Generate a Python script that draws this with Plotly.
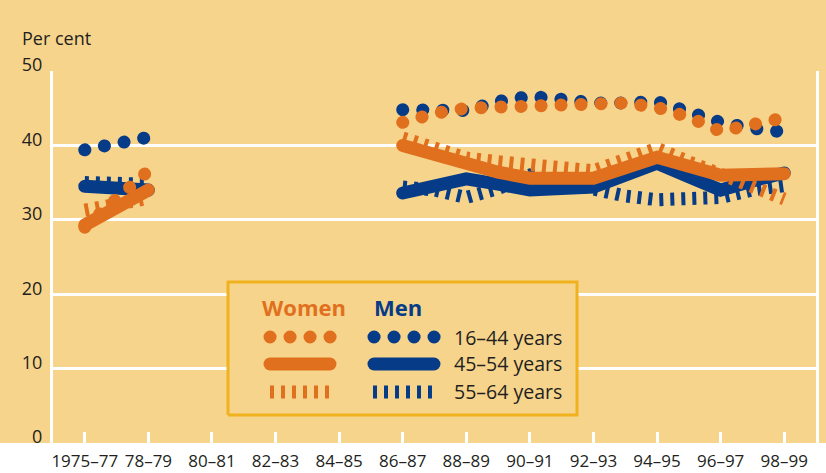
import plotly.graph_objects as go

# ---------------- data ----------------
YEARS = [1977, 1978, 1979, None, 1987, 1988, 1989, 1990, 1991, 1992, 1993,
         1994, 1995, 1996, 1997, 1998, 1999]
TICK_VALS = [1977, 1979, 1981, 1983, 1985, 1987, 1989, 1991, 1993, 1995, 1997, 1999]
TICK_TEXT = ["1975–77", "78–79", "80–81", "82–83", "84–85", "86–87", "88–89",
             "90–91", "92–93", "94–95", "96–97", "98–99"]

MEN_16_44 = [39.4, 40.3, 41.1, None, 44.8, 44.6, 44.7, 45.9, 46.6, 46.2, 45.7,
             45.7, 45.9, 44.5, 43.1, 42.3, 41.8]
MEN_45_54 = [34.5, 34.2, 34.0, None, 33.6, 34.6, 35.5, 34.8, 34.0, 34.2, 34.4,
             36.0, 37.6, 35.8, 34.0, 35.2, 36.3]
MEN_55_64 = [35.0, 35.0, 34.8, None, 34.4, 34.0, 33.0, 34.2, 36.0, 35.0, 34.4,
             33.2, 32.7, 32.7, 33.0, 34.0, 34.6]
WOMEN_16_44 = [29.0, 32.8, 36.6, None, 43.1, 44.3, 45.0, 45.2, 45.2, 45.3, 45.6,
               45.7, 45.1, 43.8, 41.9, 42.6, 43.7]
WOMEN_45_54 = [29.3, 31.6, 34.0, None, 40.0, 38.7, 37.4, 36.4, 35.6, 35.5, 35.6,
               37.0, 38.4, 37.2, 36.0, 36.1, 36.2]
WOMEN_55_64 = [31.3, 32.2, 32.9, None, 41.0, 39.5, 38.3, 37.8, 37.6, 37.0, 36.6,
               38.2, 39.6, 37.8, 36.0, 34.5, 32.8]

AGE_LABELS = ["16–44 years", "45–54 years", "55–64 years"]
SEX_LABELS = ["Women", "Men"]

# ---------------- style ----------------
ORANGE = "#E1701E"
BLUE = "#063C87"
BG = "#F7D48C"
GOLD = "#F0B21E"
TEXT = "#231F20"
FONT = "Open Sans"
LW = 13
DOT_DASH = "0.1px,19.9px"
BAR_DASH = "4px,7px"

fig = go.Figure()

def line_style(color, kind):
    if kind == "dots":
        return dict(color=color, width=LW, dash=DOT_DASH), "round"
    if kind == "solid":
        return dict(color=color, width=LW), "round"
    return dict(color=color, width=LW, dash=BAR_DASH), "butt"

def add_series(y, color, kind):
    line, meta = line_style(color, kind)
    fig.add_trace(go.Scatter(x=YEARS, y=y, mode="lines", line=line, meta=meta,
                             connectgaps=False, hoverinfo="skip", showlegend=False))

# men underneath, women on top
add_series(MEN_55_64, BLUE, "bars")
add_series(MEN_45_54, BLUE, "solid")
add_series(MEN_16_44, BLUE, "dots")
add_series(WOMEN_55_64, ORANGE, "bars")
add_series(WOMEN_45_54, ORANGE, "solid")
add_series(WOMEN_16_44, ORANGE, "dots")

# ---------------- custom legend (overlay axes in 0..1 units) ----------------
BOX_X = [0.2294, 0.6868, 0.6868, 0.2294, 0.2294]
BOX_Y = [0.0753, 0.0753, 0.4328, 0.4328, 0.0753]
fig.add_trace(go.Scatter(x=BOX_X, y=BOX_Y, xaxis="x2", yaxis="y2", mode="lines",
                         fill="toself", fillcolor=BG, line=dict(color=GOLD, width=3),
                         hoverinfo="skip", showlegend=False))

ROW_Y = [0.2849, 0.2124, 0.1371]
KINDS = ["dots", "solid", "bars"]
SAMPLE_X = {"Women": [0.2844, 0.3640], "Men": [0.4207, 0.5003]}
BAR_X = {"Women": [0.2844, 0.3617], "Men": [0.4194, 0.4967]}
for sex, color in (("Women", ORANGE), ("Men", BLUE)):
    for ry, kind in zip(ROW_Y, KINDS):
        xs = BAR_X[sex] if kind == "bars" else SAMPLE_X[sex]
        if kind == "solid":
            xs = [xs[0], xs[1] - 0.001]
        line, meta = line_style(color, kind)
        fig.add_trace(go.Scatter(x=xs, y=[ry, ry], xaxis="x2", yaxis="y2", mode="lines",
                                 line=line, meta=meta, hoverinfo="skip", showlegend=False))

annotations = [
    dict(text="Per cent", x=-0.0433, y=1.0887, xref="paper", yref="paper",
         xanchor="left", yanchor="middle", showarrow=False,
         font=dict(family=FONT, size=18, color=TEXT)),
    dict(text="<b>Women</b>", x=0.329, y=0.3656, xref="paper", yref="paper",
         xanchor="center", yanchor="middle", showarrow=False,
         font=dict(family=FONT, size=22, color=ORANGE)),
    dict(text="<b>Men</b>", x=0.452, y=0.3656, xref="paper", yref="paper",
         xanchor="center", yanchor="middle", showarrow=False,
         font=dict(family=FONT, size=22, color=BLUE)),
]
for ry, lab in zip(ROW_Y, AGE_LABELS):
    annotations.append(dict(text=lab, x=0.5230, y=ry, xref="paper", yref="paper",
                            xanchor="left", yanchor="middle", showarrow=False,
                            font=dict(family=FONT, size=19.5, color=TEXT)))

fig.update_layout(
    width=826, height=473,
    margin=dict(l=53, r=10, t=71, b=30, autoexpand=False),
    paper_bgcolor=BG, plot_bgcolor=BG,
    font=dict(family=FONT, size=17, color=TEXT),
    showlegend=False,
    xaxis=dict(range=[1976, 2000], tickmode="array", tickvals=TICK_VALS, ticktext=TICK_TEXT,
               showgrid=False, zeroline=False, ticks="inside", ticklen=11, tickwidth=3,
               tickcolor="white", showline=False, tickfont=dict(size=17, color=TEXT),
               ticklabelstandoff=6, automargin=False, fixedrange=True),
    yaxis=dict(range=[0, 50], tickvals=[0, 10, 20, 30, 40, 50], showgrid=True,
               gridcolor="white", gridwidth=3, zeroline=False, showline=True,
               linecolor="white", linewidth=3, mirror=True, ticks="",
               ticklabelstandoff=4, ticklabelshift=-6, automargin=False,
               tickfont=dict(size=18, color=TEXT), fixedrange=True),
    xaxis2=dict(overlaying="x", range=[0, 1], visible=False, fixedrange=True),
    yaxis2=dict(overlaying="y", range=[0, 1], visible=False, fixedrange=True),
    annotations=annotations,
    shapes=[dict(type="rect", xref="paper", yref="paper", x0=-0.2, x1=1.2, y0=-0.2, y1=0,
                 fillcolor="white", line=dict(width=0), layer="below")],
)

POST = """
document.documentElement.style.margin = '0';
document.body.style.margin = '0';
document.body.style.padding = '0';
var gd = document.getElementById('{plot_id}');
function setCaps(){
  gd.querySelectorAll('.scatterlayer .trace').forEach(function(t){
    var d = t.__data__; var tr = d && d[0] && d[0].trace;
    var cap = (tr && tr.meta === 'round') ? 'round' : 'butt';
    t.querySelectorAll('path.js-line').forEach(function(p){
      p.style.strokeLinecap = cap;
    });
  });
}
setCaps();
gd.on('plotly_afterplot', setCaps);
"""

fig.write_html("out.html", post_script=POST, config={"displayModeBar": False})
